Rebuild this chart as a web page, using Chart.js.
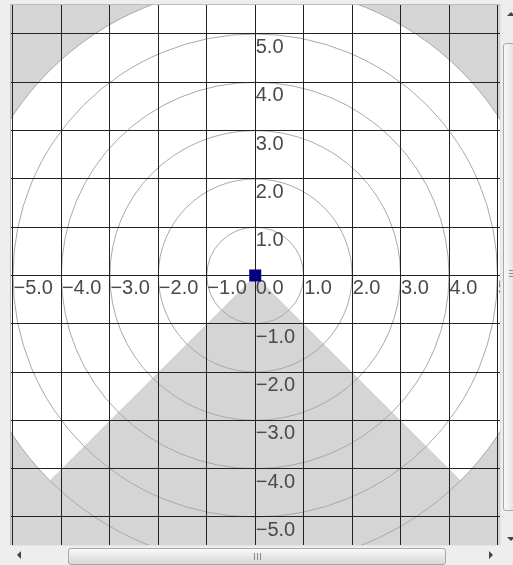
<!DOCTYPE html>
<html>
<head>
<meta charset="utf-8">
<script src="https://cdn.jsdelivr.net/npm/chart.js@4/dist/chart.umd.min.js"></script>
<style>
  html, body { margin:0; padding:0; }
  body { width:513px; height:565px; overflow:hidden; background:#eeeeee; position:relative; font-family:"Liberation Sans", Arial, sans-serif; }
  #frame { position:absolute; left:10px; top:4px; width:490px; height:541px; border-left:1px solid #bcbcbc; border-top:1px solid #bcbcbc; background:#fff; }
  #wrap { position:absolute; left:11px; top:5px; width:489px; height:540px; }
  #hbar { position:absolute; left:10px; top:545px; width:491px; height:20px; background:#eeeeee; border-top:1px solid #e2e2e2; }
  #hthumb { position:absolute; left:58px; top:2px; width:376px; height:15px; border:1px solid #a8a8a8; border-radius:3px;
            background:linear-gradient(#fafafa, #e6e6e6 55%, #d8d8d8); }
  #hgrip { position:absolute; left:185px; top:4px; width:7px; height:7px;
           background:repeating-linear-gradient(90deg, #8a8a8a 0 1px, transparent 1px 3px); }
  #vbar { position:absolute; left:500px; top:4px; width:13px; height:541px; background:#eeeeee; border-left:1px solid #e2e2e2; }
  #vthumb { position:absolute; left:2px; top:39px; width:15px; height:466px; border:1px solid #a8a8a8; border-radius:3px;
            background:linear-gradient(90deg, #fafafa, #e6e6e6 55%, #d8d8d8); }
  #vgrip { position:absolute; left:5px; top:226px; width:7px; height:7px;
           background:repeating-linear-gradient(180deg, #8a8a8a 0 1px, transparent 1px 3px); }
  .arr { position:absolute; width:0; height:0; }
  #aleft { left:17px; top:551px; border-top:4px solid transparent; border-bottom:4px solid transparent; border-right:4px solid #444; }
  #aright { left:489px; top:551px; border-top:4px solid transparent; border-bottom:4px solid transparent; border-left:4px solid #444; }
  #aup { left:507px; top:12px; border-left:4px solid transparent; border-right:4px solid transparent; border-bottom:4px solid #444; }
  #adown { left:507px; top:537px; border-left:4px solid transparent; border-right:4px solid transparent; border-top:4px solid #444; }
</style>
</head>
<body>
<div id="frame"></div>
<div id="wrap"><canvas id="myChart" width="489" height="540"></canvas></div>
<div id="vbar"><div id="vthumb"><div id="vgrip"></div></div></div>
<div id="hbar"><div id="hthumb"><div id="hgrip"></div></div></div>
<div class="arr" id="aleft"></div>
<div class="arr" id="aright"></div>
<div class="arr" id="aup"></div>
<div class="arr" id="adown"></div>

<script>
// values
var xTicks = [-5, -4, -3, -2, -1, 0, 1, 2, 3, 4, 5]
var yTicks = [-5, -4, -3, -2, -1, 0, 1, 2, 3, 4, 5]
var ringRadii = [1, 2, 3, 4, 5, 6]
var rangeRadius = 6
// blind wedge below the sensor, in degrees (0 = +x, counter clockwise)
var blindFrom = -135
var blindTo = -45
var sensorX = [0]
var sensorY = [0]
// visible window of the scroll pane
var xView = [-5.041, 5.052]
var yView = [-5.58, 5.60]

var fontStr = '20px "Liberation Sans", Arial, sans-serif'

function label(v) {
    return v.toFixed(1).replace('-', '\u2212')
}

var backdrop = {
    id: 'backdrop',
    beforeDraw: function(chart) {
        var ctx = chart.ctx, a = chart.chartArea
        var sx = chart.scales.x, sy = chart.scales.y
        var cx = sx.getPixelForValue(0), cy = sy.getPixelForValue(0)
        var rx = sx.getPixelForValue(rangeRadius) - cx
        var ry = cy - sy.getPixelForValue(rangeRadius)

        ctx.save()
        ctx.fillStyle = '#d5d5d5'
        ctx.fillRect(a.left, a.top, a.right - a.left, a.bottom - a.top)

        // covered area: full circle minus the blind wedge
        ctx.beginPath()
        ctx.moveTo(cx, cy)
        ctx.ellipse(cx, cy, rx, ry, 0, -blindTo * Math.PI / 180, -(blindFrom + 360) * Math.PI / 180, true)
        ctx.closePath()
        ctx.fillStyle = '#ffffff'
        ctx.fill()

        ctx.strokeStyle = '#a9a9a9'
        ctx.lineWidth = 1
        ringRadii.forEach(function(r) {
            ctx.beginPath()
            ctx.ellipse(cx, cy, sx.getPixelForValue(r) - cx, cy - sy.getPixelForValue(r), 0, 0, Math.PI * 2)
            ctx.stroke()
        })
        ctx.restore()
    },
    beforeDatasetsDraw: function(chart) {
        var ctx = chart.ctx
        var sx = chart.scales.x, sy = chart.scales.y
        var ox = sx.getPixelForValue(0), oy = sy.getPixelForValue(0)
        ctx.save()
        ctx.font = fontStr
        ctx.fillStyle = '#4a4a4a'
        ctx.textAlign = 'left'
        ctx.textBaseline = 'alphabetic'
        xTicks.forEach(function(v) {
            ctx.fillText(label(v), sx.getPixelForValue(v) + 0.5, oy + 19)
        })
        // the 0.0 of the y axis sits on the x axis one
        yTicks.forEach(function(v) {
            if (v === 0) return
            ctx.fillText(label(v), ox + 0.5, sy.getPixelForValue(v) + 19)
        })
        ctx.restore()
    }
}

function fixTicks(list) {
    return function(scale) {
        scale.ticks = list.map(function(v) { return { value: v } })
    }
}

var ctx = document.getElementById('myChart')
var myChart = new Chart(ctx, {
    type: 'scatter',
    data: {
        datasets: [{
            data: sensorX.map(function(x, i) { return { x: x, y: sensorY[i] } }),
            pointStyle: 'rect',
            pointRadius: 8.5,
            pointBorderWidth: 0,
            backgroundColor: '#000080',
            borderColor: '#000080'
        }]
    },
    options: {
        responsive: false,
        animation: false,
        devicePixelRatio: 1,
        layout: { padding: 0, autoPadding: false },
        events: [],
        plugins: { legend: { display: false }, tooltip: { enabled: false } },
        scales: {
            x: {
                type: 'linear',
                min: xView[0], max: xView[1],
                afterBuildTicks: fixTicks(xTicks),
                ticks: { display: false },
                grid: { color: '#222222', lineWidth: 1, drawTicks: false },
                border: { display: false }
            },
            y: {
                type: 'linear',
                min: yView[0], max: yView[1],
                afterBuildTicks: fixTicks(yTicks),
                ticks: { display: false },
                grid: { color: '#222222', lineWidth: 1, drawTicks: false },
                border: { display: false }
            }
        }
    },
    plugins: [backdrop]
})
</script>
</body>
</html>
